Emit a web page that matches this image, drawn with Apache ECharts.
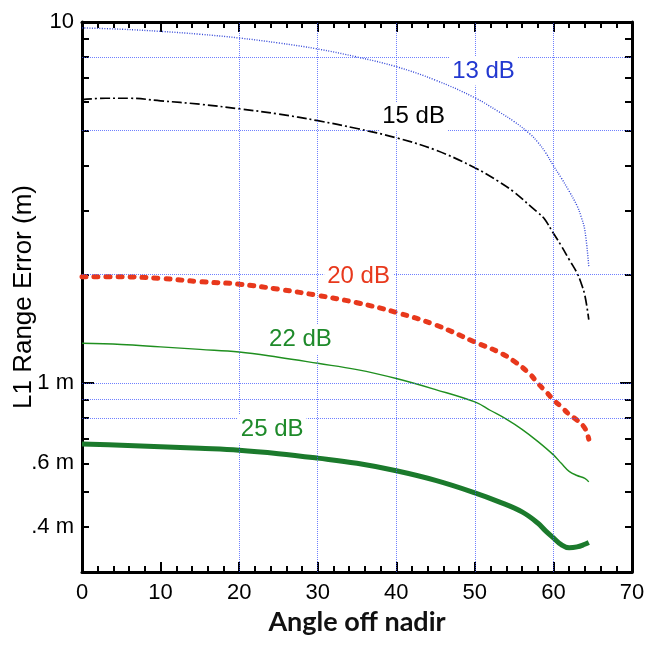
<!DOCTYPE html>
<html>
<head>
<meta charset="utf-8">
<script src="https://cdn.jsdelivr.net/npm/echarts@6/dist/echarts.min.js"></script>
<style>html,body{margin:0;padding:0;background:#fff;}#c{width:649px;height:646px;}</style>
</head>
<body>
<div id="c"></div>
<script>
// ---- data ----
const angles13 = [0,5,10,15,20,25,30,35,40,45,50,53,55,57,58,59,60,61,62,63,63.5,64,64.5];
const err13    = [9.63,9.55,9.42,9.25,9.03,8.75,8.42,8.0,7.52,6.9,6.17,5.65,5.3,4.9,4.65,4.35,4.0,3.7,3.4,3.1,2.9,2.65,2.1];

const angles15 = [0,3,6,10,15,20,25,30,35,40,45,50,53,55,57,58,58.8,60,61,62,63,63.5,64,64.5];
const err15    = [6.1,6.15,6.15,6.05,5.92,5.75,5.56,5.33,5.07,4.78,4.42,3.95,3.62,3.38,3.1,2.97,2.86,2.6,2.4,2.2,2.02,1.9,1.75,1.5];

const angles20 = [0,5,10,15,20,25,30,35,40,45,50,53,55,57,58,59,60,61,62,63,64,64.5];
const err20    = [1.97,1.97,1.95,1.91,1.88,1.82,1.75,1.67,1.57,1.45,1.30,1.22,1.15,1.06,1.0,0.95,0.90,0.86,0.82,0.79,0.75,0.70];

const angles22 = [0,5,10,15,20,25,30,35,40,45,50,52,54,56,58,60,61,62,63,64,64.5];
const err22    = [1.29,1.28,1.26,1.24,1.22,1.18,1.135,1.09,1.03,0.96,0.887,0.84,0.795,0.745,0.69,0.633,0.60,0.57,0.555,0.545,0.533];

const angles25 = [0,5,10,15,20,25,30,35,40,45,50,53,56,58,59,60,61,62,63,64,64.5];
const err25    = [0.679,0.673,0.667,0.66,0.652,0.638,0.62,0.60,0.572,0.538,0.497,0.47,0.44,0.41,0.39,0.373,0.357,0.350,0.352,0.358,0.362];

const seriesNames = ['13 dB','15 dB','20 dB','22 dB','25 dB'];
// label anchor positions (data units)
const labelAngles = [51.1, 42.2, 35.2, 27.8, 24.2];
const labelErrors = [7.32, 5.47, 1.975, 1.32, 0.746];

const yLabelValues = [0.4, 0.6, 1, 10];
const yLabelTexts  = ['.4 m', '.6 m', '1 m', '10'];
const yMajorTicks  = [1, 10];
const yMinorTicks  = [0.4,0.5,0.6,0.7,0.8,0.9,2,3,4,5,6,7,8,9];
const xGridValues  = [20,30,40,50,60];
const yGridValues  = [8,5,2,1,0.9,0.8];

const zip = (a,b) => a.map((v,i)=>[v,b[i]]);

const chart = echarts.init(document.getElementById('c'), null, {renderer:'canvas'});
const font = 'Liberation Sans, Arial, sans-serif';
const black = '#000';
const gridColor = '#3f56ff';

function xAx(pos, showLabel){
  return {
    type:'value', min:0, max:70, interval:10, position:pos,
    axisLine:{show:true, onZero:false, lineStyle:{color:black, width:3}},
    axisTick:{show:true, inside:true, length:10, lineStyle:{color:black, width:2}},
    minorTick:{show:true, splitNumber:5, length:6, lineStyle:{color:black, width:2}},
    splitLine:{show:false},
    axisLabel:{show:showLabel, fontSize:22, color:black, margin:10, fontFamily:font},
    name: showLabel ? 'Angle off nadir' : '',
    nameLocation:'middle', nameGap:50, nameMoveOverlap:false,
    nameTextStyle:{fontFamily:'Lato, sans-serif', fontSize:27, fontWeight:'bold', color:'#111',
      verticalAlign:'middle'}
  };
}
function yAx(pos, ticks, len, showLine, showLabel){
  const o = {
    type:'log', logBase:10, min:0.3, max:10, position:pos,
    axisLine:{show:showLine, onZero:false, lineStyle:{color:black, width:3}},
    axisTick:{show:true, inside:true, length:len, customValues:ticks, lineStyle:{color:black, width:2}},
    splitLine:{show:false},
    minorTick:{show:false},
    axisLabel:{show:showLabel, customValues:yLabelValues, fontSize:22, color:black, margin:8, fontFamily:font,
      formatter:(v)=>{ const i = yLabelValues.findIndex(t=>Math.abs(t-v)<1e-6); return i>=0 ? yLabelTexts[i] : ''; }}
  };
  if (showLabel) {
    o.name = 'L1 Range Error (m)';
    o.nameLocation = 'middle';
    o.nameGap = 58;
    o.nameMoveOverlap = false;
    o.nameTextStyle = {fontFamily:font, fontSize:26, color:black, verticalAlign:'middle'};
  }
  return o;
}

function labelMark(i, color){
  return {
    silent:true,
    symbol:'rect', symbolSize:1,
    itemStyle:{color:'rgba(0,0,0,0)'},
    label:{show:true, position:'inside', formatter:seriesNames[i], color:color, fontSize:24, fontFamily:font,
      backgroundColor:'#fff', padding:[4,3,1,3]},
    data:[{coord:[labelAngles[i], labelErrors[i]]}]
  };
}

const option = {
  animation:false,
  backgroundColor:'#fff',
  grid:{left:82, right:17, top:22, bottom:74, containLabel:false, outerBoundsMode:'none'},
  xAxis:[xAx('bottom', true), xAx('top', false)],
  yAxis:[
    yAx('left', yMajorTicks, 12, true, true),
    yAx('left', yMinorTicks, 7, false, false),
    yAx('right', yMajorTicks, 12, true, false),
    yAx('right', yMinorTicks, 7, false, false)
  ],
  series:[
    {
      type:'line', name:'grid', data:[], z:1, silent:true,
      markLine:{
        silent:true, symbol:['none','none'], label:{show:false}, animation:false,
        lineStyle:{color:gridColor, width:1, type:[1,1], opacity:0.75},
        data: xGridValues.map(v=>({xAxis:v})).concat(yGridValues.map(v=>({yAxis:v})))
      }
    },
    {
      type:'line', name:seriesNames[0], data:zip(angles13, err13), smooth:0.4, showSymbol:false, z:3,
      lineStyle:{color:'#3347d8', width:1.4, type:[1,1.5]},
      markPoint: labelMark(0, '#2238d0')
    },
    {
      type:'line', name:seriesNames[1], data:zip(angles15, err15), smooth:0.4, showSymbol:false, z:3,
      lineStyle:{color:'#000', width:1.7, type:[10,3,2,3]},
      markPoint: labelMark(1, '#000')
    },
    {
      type:'line', name:seriesNames[2], data:zip(angles20, err20), smooth:0.4, showSymbol:false, z:3,
      lineStyle:{color:'#e8381c', width:5, type:[4,8], cap:'round'},
      markPoint: labelMark(2, '#e8381c')
    },
    {
      type:'line', name:seriesNames[3], data:zip(angles22, err22), smooth:0.4, showSymbol:false, z:3,
      lineStyle:{color:'#1f8f1f', width:1.4},
      markPoint: labelMark(3, '#1e8a2a')
    },
    {
      type:'line', name:seriesNames[4], data:zip(angles25, err25), smooth:0.4, showSymbol:false, z:3,
      lineStyle:{color:'#1b7a2c', width:5},
      markPoint: labelMark(4, '#1e8a2a')
    }
  ]
};
chart.setOption(option);
</script>
</body>
</html>
